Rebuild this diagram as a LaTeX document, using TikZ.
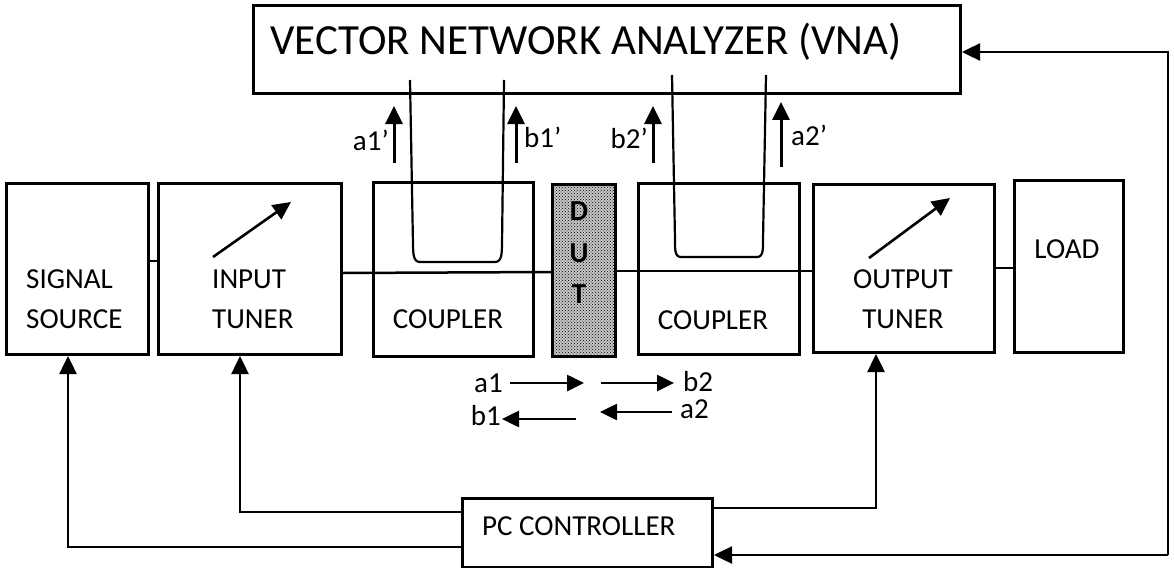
\documentclass[tikz,border=0pt]{standalone}
\usepackage{fontspec}
\setmainfont{Carlito}
\usetikzlibrary{arrows.meta,patterns}
\begin{document}
\begin{tikzpicture}[x=1pt,y=-1pt,
  box/.style={draw, line width=3pt, inner sep=0pt, anchor=north west},
  txt/.style={inner sep=0pt, font=\fontsize{29}{34}\selectfont},
  bigtxt/.style={inner sep=0pt, font=\fontsize{43}{50}\selectfont},
  duttxt/.style={inner sep=0pt, font=\fontsize{29}{34}\selectfont\bfseries},
  wire/.style={line width=2.5pt},
  loopline/.style={line width=2.2pt, line join=round},
  tip/.style={-{Triangle[length=18pt,width=17pt]}},
  arr/.style={line width=3pt, tip},
  sarr/.style={line width=2.6pt, -{Triangle[length=17pt,width=16pt]}}]
\useasboundingbox (0,0) rectangle (1174,567);
\fill[white] (0,0) rectangle (1174,567);

% boxes
\node[box, minimum width=707pt, minimum height=88pt] (vna) at (252,4) {};
\node[box, minimum width=142pt, minimum height=171pt] (src) at (5,182) {};
\node[box, minimum width=183pt, minimum height=171pt] (itun) at (157,182) {};
\node[box, minimum width=160pt, minimum height=174pt] (cp1) at (372,181) {};
\node[box, minimum width=63pt, minimum height=172pt, preaction={fill=gray!45}, pattern=crosshatch dots] (dut) at (551,183) {};
\node[box, minimum width=161pt, minimum height=171pt] (cp2) at (637,182) {};
\node[box, minimum width=181pt, minimum height=168pt] (otun) at (812,183) {};
\node[box, minimum width=109pt, minimum height=172pt] (load) at (1013,179) {};
\node[box, minimum width=250pt, minimum height=69pt] (pc) at (461,497) {};

% texts
\node[bigtxt, anchor=base] (title) at (586,55) {VECTOR NETWORK ANALYZER (VNA)};
\node[txt, anchor=base west] (srcA) at (26,288) {SIGNAL};
\node[txt, anchor=base west] (srcB) at (26,328) {SOURCE};
\node[txt, anchor=base west] (itA) at (212,288) {INPUT};
\node[txt, anchor=base west] (itB) at (212,328) {TUNER};
\node[txt, anchor=base] (cp1t) at (448,328) {COUPLER};
\node[txt, anchor=base] (cp2t) at (713,329) {COUPLER};
\node[txt, anchor=base] (otA) at (903,288) {OUTPUT};
\node[txt, anchor=base] (otB) at (903,328) {TUNER};
\node[txt, anchor=base] (loadt) at (1067,258) {LOAD};
\node[txt, anchor=base west] (pct) at (482,535) {PC CONTROLLER};
\node[duttxt, anchor=base] (dD) at (579,220) {D};
\node[duttxt, anchor=base] (dU) at (579,262) {U};
\node[duttxt, anchor=base] (dT) at (579,303) {T};

% wave labels
\node[txt, anchor=base east] (la1p) at (389,150) {a1’};
\node[txt, anchor=base west] (lb1p) at (524,147) {b1’};
\node[txt, anchor=base east] (lb2p) at (648,148) {b2’};
\node[txt, anchor=base west] (la2p) at (791,145) {a2’};
\node[txt, anchor=base east] (la1) at (503,392) {a1};
\node[txt, anchor=base west] (lb2) at (683,391) {b2};
\node[txt, anchor=base west] (la2) at (680,418) {a2};
\node[txt, anchor=base east] (lb1) at (501,425) {b1};

% main RF line
\draw[wire] (src.east |- 0,261) -- (itun.west |- 0,261);
\draw[wire] (itun.east |- 0,273) -- (dut.west |- 0,272);
\draw[wire] (dut.east |- 0,271) -- (otun.west |- 0,271);
\draw[wire] (otun.east |- 0,268) -- (load.west |- 0,268);

% coupled loops
\draw[loopline] (410,80) -- (413,245) to[out=-88,in=180] (420,262) -- (495,262) to[out=0,in=-92] (502,245) -- (504,80);
\draw[loopline] (672,75) -- (675,240) to[out=-88,in=180] (681,257) -- (757,257) to[out=0,in=-92] (763,240) -- (766,75);

% coupled wave arrows
\coordinate (a1s) at (394,163); \coordinate (a1e) at (394,106);
\coordinate (b1s) at (516,163); \coordinate (b1e) at (516,106);
\coordinate (b2s) at (653,163); \coordinate (b2e) at (653,106);
\coordinate (a2s) at (781,167); \coordinate (a2e) at (781,102);
\draw[arr] (a1s) -- (a1e);
\draw[arr] (b1s) -- (b1e);
\draw[arr] (b2s) -- (b2e);
\draw[arr] (a2s) -- (a2e);

% tuner arrows
\coordinate (it0) at (213,257); \coordinate (it1) at (291,202);
\coordinate (ot0) at (869,258); \coordinate (ot1) at (950,198);
\draw[line width=2.6pt, tip] (it0) -- (it1);
\draw[line width=2.6pt, tip] (ot0) -- (ot1);

% incident/reflected waves
\coordinate (w1s) at (510,383); \coordinate (w1e) at (584,383);
\coordinate (w2s) at (601,383); \coordinate (w2e) at (674,383);
\coordinate (w3s) at (672,412); \coordinate (w3e) at (600,412);
\coordinate (w4s) at (576,419); \coordinate (w4e) at (502,419);
\draw[sarr] (w1s) -- (w1e);
\draw[sarr] (w2s) -- (w2e);
\draw[sarr] (w3s) -- (w3e);
\draw[sarr] (w4s) -- (w4e);

% control lines
\draw[wire, tip] (pc.west |- 0,512) -| (itun.south -| 240,0);
\draw[wire, tip] (pc.west |- 0,547) -| (src.south -| 68,0);
\draw[wire, tip] (pc.east |- 0,508) -| (otun.south -| 876,0);
\coordinate (rtop) at (1168,52);
\coordinate (rbot) at (1168,555);
\draw[wire, tip] (rbot) -- (rtop) -- (vna.east |- rtop);
\draw[wire, tip] (rbot) -- (pc.east |- rbot);
\end{tikzpicture}
\end{document}
